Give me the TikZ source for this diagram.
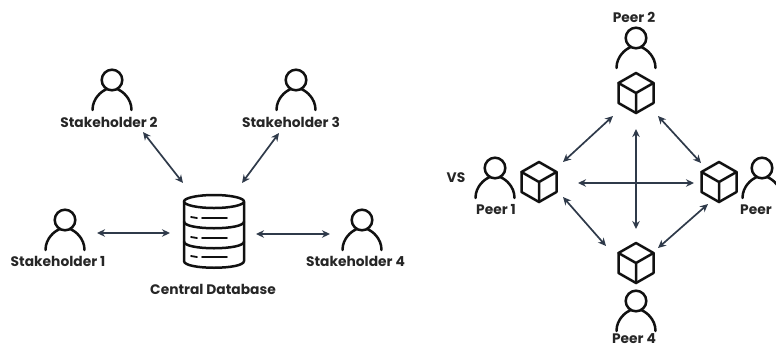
\documentclass[tikz,border=0pt]{standalone}
\usepackage{fontspec}
\setmainfont{Poppins}
\usetikzlibrary{arrows.meta}
\definecolor{ink}{HTML}{111111}
\definecolor{link}{HTML}{2F3A4A}
\definecolor{lab}{HTML}{262626}
\tikzset{
  x=1pt,y=-1pt,
  icon/.style={draw=ink,line width=2.5pt,line cap=round,line join=round},
  thinicon/.style={draw=ink,line width=1.8pt,line cap=round},
  link/.style={draw=link,line width=1.7pt,{Stealth[length=8pt,width=7.5pt]}-{Stealth[length=8pt,width=7.5pt]}},
  lbl/.style={text=lab,font=\fontsize{13.8}{15}\selectfont\bfseries,inner sep=0pt,anchor=center},
  person/.pic={
    \draw[icon] (0,0) circle[radius=10.3];
    \draw[icon] (-19.5,30) .. controls (-19.5,18) and (-10,11) .. (-6,9.5);
    \draw[icon] (19.5,30) .. controls (19.5,18) and (10,11) .. (6,9.5);
  },
  cube/.pic={
    \draw[icon] (0,-20) -- (17.5,-10) -- (17.5,10) -- (0,20) -- (-17.5,10) -- (-17.5,-10) -- cycle;
    \draw[icon] (-17.5,-10) -- (0,0) -- (17.5,-10) (0,0) -- (0,20);
  },
}
\begin{document}
\begin{tikzpicture}
\useasboundingbox (0,0) rectangle (776,346);
\begin{scope}
\clip (0,0) rectangle (776,346);
% left side icons
\pic at (65,220) {person};
\pic at (112,80) {person};
\pic at (296,80) {person};
\pic at (362,220) {person};
% database
\draw[icon] (214,201.5) ellipse[x radius=30,y radius=6.5];
\draw[icon] (184,201.5) -- (184,261) .. controls (184,270) and (244,270) .. (244,261) -- (244,201.5);
\draw[icon] (184,221.5) .. controls (184,230.5) and (244,230.5) .. (244,221.5);
\draw[icon] (184,241.5) .. controls (184,250.5) and (244,250.5) .. (244,241.5);
\foreach \yy in {217,237,256}{
  \draw[thinicon] (191,\yy) -- (197,\yy+1);
  \draw[thinicon] (202,\yy+1) -- (227,\yy+1);
}
% right side icons
\pic at (636,38) {person};
\pic at (636,93) {cube};
\pic at (495,168) {person};
\pic at (539,182) {cube};
\pic at (762,168) {person};
\pic at (719,182) {cube};
\pic at (636,263) {cube};
\pic at (636,301) {person};
\end{scope}
% labels
\node[lbl] (s1) at (58,261.5) {Stakeholder 1};
\node[lbl] (s2) at (109,122.5) {Stakeholder 2};
\node[lbl] (s3) at (291,122.5) {Stakeholder 3};
\node[lbl] (s4) at (355.5,261.5) {Stakeholder 4};
\node[lbl] (cdb) at (213,289.5) {Central Database};
\node[lbl] (vs) at (456,178) {VS};
\node[lbl] (p1) at (496,209.5) {Peer 1};
\node[lbl] (p2) at (634,17.5) {Peer 2};
\node[lbl,anchor=west] (p3) at (740,209.5) {Peer};
\node[lbl] (p4) at (634,338.5) {Peer 4};
% connector ends
\coordinate (a1) at (97,233);  \coordinate (a2) at (170,233);
\coordinate (b1) at (256,234); \coordinate (b2) at (330,234);
\coordinate (c1) at (143,132); \coordinate (c2) at (183,183);
\coordinate (d1) at (279,133); \coordinate (d2) at (242,183);
\coordinate (e1) at (563,162); \coordinate (e2) at (613,116);
\coordinate (f1) at (658,116); \coordinate (f2) at (701,163);
\coordinate (g1) at (563,197); \coordinate (g2) at (606,246);
\coordinate (h1) at (708,204); \coordinate (h2) at (658,248);
\coordinate (i1) at (578,183); \coordinate (i2) at (694,183);
\coordinate (j1) at (636,129); \coordinate (j2) at (636,229);
\foreach \u/\v in {a1/a2,b1/b2,c1/c2,d1/d2,e1/e2,f1/f2,g1/g2,h1/h2,i1/i2,j1/j2}
  \draw[link] (\u) -- (\v);
\end{tikzpicture}
\end{document}
